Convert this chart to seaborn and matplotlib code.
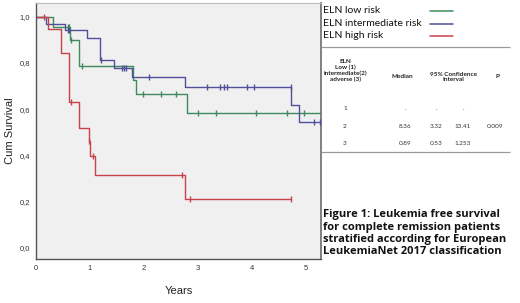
import numpy as np
import pandas as pd
import matplotlib
matplotlib.use("Agg")
import matplotlib.pyplot as plt
import seaborn as sns

# ---- data ----
groups = ["ELN low risk", "ELN intermediate risk", "ELN high risk"]
colors = ["#3f8a5c", "#4f4f9a", "#c8414b"]

low_event_t = [0.32, 0.63, 0.80, 1.80, 1.86, 2.79]
low_surv = [0.957, 0.899, 0.787, 0.725, 0.665, 0.584]
low_cens = [0.60, 0.62, 0.65, 0.85, 1.99, 2.31, 2.59, 3.01, 3.33, 4.07, 4.65, 4.97]
low_end = 5.40

int_event_t = [0.18, 0.54, 0.94, 1.19, 1.44, 1.77, 2.76, 4.73, 4.88]
int_surv = [0.971, 0.942, 0.909, 0.812, 0.776, 0.737, 0.694, 0.617, 0.542]
int_cens = [0.60, 0.62, 1.21, 1.60, 1.63, 1.67, 2.10, 3.17, 3.41, 3.48, 3.53,
            3.90, 4.04, 4.72, 5.15, 5.26]
int_end = 5.40

high_event_t = [0.23, 0.46, 0.61, 0.80, 0.98, 1.00, 1.09, 2.76]
high_surv = [0.947, 0.842, 0.632, 0.52, 0.46, 0.395, 0.316, 0.211]
high_cens = [0.15, 0.64, 0.99, 1.05, 2.71, 2.85, 4.73]
high_end = 4.73

y_ticks = [0.0, 0.2, 0.4, 0.6, 0.8, 1.0]
x_ticks = [0, 1, 2, 3, 4, 5]

# table to the right
tab_header = ["ELN\nLow (1)\nintermediate(2)\nadverse (3)", "Median",
              "95% Confidence\nInterval", "P"]
tab_group = ["1", "2", "3"]
tab_median = [".", "8.36", "0.89"]
tab_ci_low = [".", "3.32", "0.53"]
tab_ci_high = [".", "13.41", "1.253"]
tab_p = ["", "0.009", ""]

caption = ("Figure 1: Leukemia free survival\nfor complete remission patients\n"
           "stratified according for European\nLeukemiaNet 2017 classification")


def km_frame(event_t, surv, cens, end, name):
    t = np.array([0.0] + event_t + [end])
    s = np.array([1.0] + surv + [surv[-1]])
    steps = pd.DataFrame({"t": t, "s": s, "group": name})
    idx = np.searchsorted(t, cens, side="right") - 1
    marks = pd.DataFrame({"t": cens, "s": s[idx], "group": name})
    return steps, marks


sns.set_style("white")
plt.rcParams["font.family"] = ["Liberation Sans", "DejaVu Sans"]

fig = plt.figure(figsize=(5.2, 3.03), dpi=100)
ax = fig.add_axes([36 / 520, 1 - 259 / 303, 285 / 520, 256 / 303])
ax.set_facecolor("#f0f0f0")

data = [
    (low_event_t, low_surv, low_cens, low_end),
    (int_event_t, int_surv, int_cens, int_end),
    (high_event_t, high_surv, high_cens, high_end),
]
for (ev, sv, cn, en), name, col in zip(data, groups, colors):
    steps, marks = km_frame(ev, sv, cn, en, name)
    sns.lineplot(data=steps, x="t", y="s", drawstyle="steps-post", color=col,
                 lw=1.0, estimator=None, sort=False, ax=ax, legend=False)
    sns.scatterplot(data=marks, x="t", y="s", marker="|", s=22, color=col,
                    linewidth=1.0, ax=ax, legend=False, zorder=4)

ax.set_xlim(0, 5.28)
ax.set_ylim(-0.05, 1.06)
ax.set_xticks(x_ticks)
ax.set_xticklabels([str(v) for v in x_ticks])
ax.set_yticks(y_ticks)
ax.set_yticklabels([f"{v:.1f}".replace(".", ",") for v in y_ticks])
ax.tick_params(axis="both", direction="out", length=3, width=0.8, color="#555555",
               labelsize=5.5, labelcolor="#333333", pad=1.5)
ax.set_xlabel("Years", fontsize=8, color="#222222", labelpad=10)
ax.set_ylabel("Cum Survival", fontsize=8, color="#222222", labelpad=3)
for side in ["left", "bottom"]:
    ax.spines[side].set_color("#555555")
    ax.spines[side].set_linewidth(1.0)
ax.spines["top"].set_color("#bbbbbb")
ax.spines["top"].set_linewidth(0.8)
ax.spines["right"].set_color("#777777")
ax.spines["right"].set_linewidth(1.3)

# side panel (legend, table, caption) in pixel coordinates of an invisible axes
tab = fig.add_axes([0, 0, 1, 1], facecolor="none")
tab.set_xlim(0, 520)
tab.set_ylim(303, 0)
tab.axis("off")

leg_y = [10.5, 24, 36]
for name, col, ly in zip(groups, colors, leg_y):
    tab.text(323, ly, name, ha="left", va="center", fontsize=7.5,
             family="Lato", color="#111111")
    tab.plot([430, 453], [ly, ly], color=col, lw=1.1)

tab.hlines([46.7, 151.7], 321, 510, color="#999999", lw=0.9)
hdr_x = [345, 402, 453, 497]
hdr_y = [70.5, 77, 77, 77]
for txt, hx, hy in zip(tab_header, hdr_x, hdr_y):
    tab.text(hx, hy, txt, ha="center", va="center", fontsize=4.6,
             fontweight="bold", family="Lato", color="#222222", linespacing=1.15)
row_y = [108.3, 127, 143.3]
col_x = [345, 405, 436, 463, 495]
for i, ry in enumerate(row_y):
    vals = [tab_group[i], tab_median[i], tab_ci_low[i], tab_ci_high[i], tab_p[i]]
    for v, cx in zip(vals, col_x):
        tab.text(cx, ry, v, ha="center", va="center", fontsize=4.6,
                 family="Lato", color="#333333")

tab.text(323, 209.5, caption, ha="left", va="top", fontsize=8,
         fontweight="bold", family="Open Sans", color="#111111", linespacing=1.13)

fig.savefig("out.png", dpi=100)
